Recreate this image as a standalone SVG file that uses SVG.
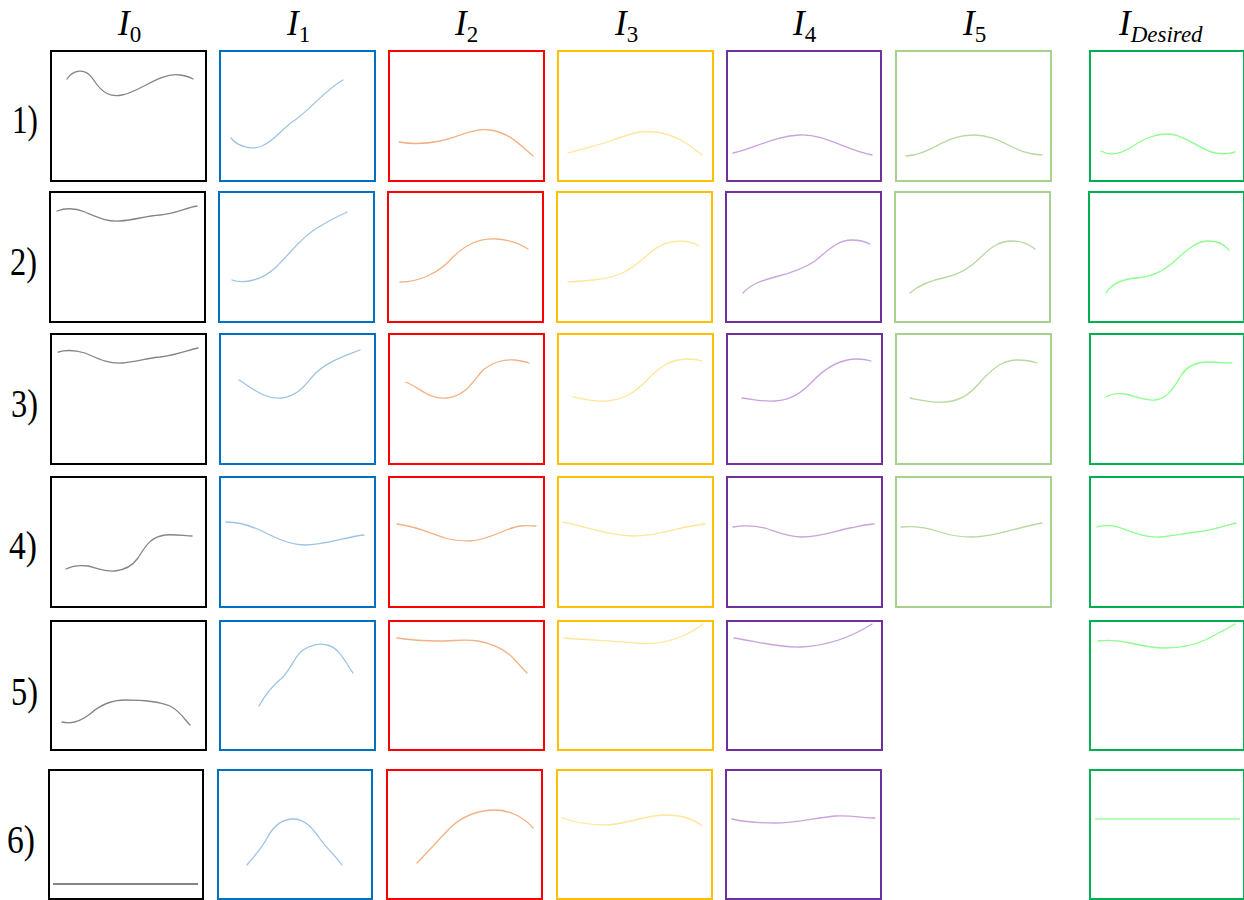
<svg xmlns="http://www.w3.org/2000/svg" width="1244" height="900" viewBox="0 0 1244 900">
<style>
.hdr{font-family:"Liberation Serif",serif;font-style:italic;font-size:35px;fill:#000}
.sub{font-style:normal;font-size:23px}
.subi{font-style:italic;font-size:23px}
.row{font-family:"Liberation Serif",serif;font-size:39px;fill:#000}
.box{fill:#fff;stroke-width:2}
.c{fill:none;stroke-width:1.3;stroke-linecap:round}
.k0{stroke:#000}.k1{stroke:#0070C0}.k2{stroke:#FF0000}.k3{stroke:#FFC000}.k4{stroke:#7030A0}.k5{stroke:#A9D18E}.kd{stroke:#00B050}
.q0{stroke:#858585}.q1{stroke:#9DC3E6}.q2{stroke:#F4B183}.q3{stroke:#FFE699}.q4{stroke:#C9A3DA}.q5{stroke:#B7D89F}.qd{stroke:#8CFF8C}
</style>
<rect width="1244" height="900" fill="#fff"/>
<g id="headers">
<text class="hdr" x="118" y="35">I<tspan class="sub" dy="7">0</tspan></text>
<text class="hdr" x="287" y="35">I<tspan class="sub" dy="7">1</tspan></text>
<text class="hdr" x="455" y="35">I<tspan class="sub" dy="7">2</tspan></text>
<text class="hdr" x="615" y="35">I<tspan class="sub" dy="7">3</tspan></text>
<text class="hdr" x="793" y="35">I<tspan class="sub" dy="7">4</tspan></text>
<text class="hdr" x="963" y="35">I<tspan class="sub" dy="7">5</tspan></text>
<text class="hdr" x="1119" y="35">I<tspan class="subi" dy="7">Desired</tspan></text>
</g>
<g id="rowlabels">
<text class="row" x="12" y="133" textLength="26" lengthAdjust="spacingAndGlyphs">1)</text>
<text class="row" x="10" y="275" textLength="27" lengthAdjust="spacingAndGlyphs">2)</text>
<text class="row" x="11" y="417" textLength="27" lengthAdjust="spacingAndGlyphs">3)</text>
<text class="row" x="9" y="559" textLength="28" lengthAdjust="spacingAndGlyphs">4)</text>
<text class="row" x="11" y="705" textLength="27" lengthAdjust="spacingAndGlyphs">5)</text>
<text class="row" x="7" y="853" textLength="28" lengthAdjust="spacingAndGlyphs">6)</text>
</g>

<!-- Row 1 -->
<g id="r1c0"><rect class="box k0" x="51" y="51" width="155" height="130"/><path class="c q0" d="M67,79 C73,70 85,67 93,79 C103,95 112,97 122,95 C140,92 160,72 180,75 C186,76 190,77 193,79"/></g>
<g id="r1c1"><rect class="box k1" x="220" y="51" width="155" height="130"/><path class="c q1" d="M231,138 C238,147 252,150 262,146 C276,140 282,128 295,120 C312,108 325,90 343,80"/></g>
<g id="r1c2"><rect class="box k2" x="389" y="51" width="155" height="130"/><path class="c q2" d="M399,142 C410,144 425,144 440,141 C460,136 475,128 490,130 C510,133 520,145 533,156"/></g>
<g id="r1c3"><rect class="box k3" x="558" y="51" width="155" height="130"/><path class="c q3" d="M568,153 C585,148 600,145 613,140 C630,134 640,130 655,132 C675,134 690,145 702,155"/></g>
<g id="r1c4"><rect class="box k4" x="727" y="51" width="154" height="130"/><path class="c q4" d="M733,153 C755,148 775,136 800,135 C825,134 845,150 872,155"/></g>
<g id="r1c5"><rect class="box k5" x="896" y="51" width="155" height="130"/><path class="c q5" d="M906,156 C930,155 945,135 973,135 C1002,135 1015,155 1042,155"/></g>
<g id="r1cd"><rect class="box kd" x="1090" y="51" width="154" height="130"/><path class="c qd" d="M1101,151 C1110,156 1120,154 1130,148 C1145,138 1155,134 1167,134 C1185,134 1200,150 1215,153 C1225,155 1230,153 1235,152"/></g>

<!-- Row 2 -->
<g id="r2c0"><rect class="box k0" x="50" y="192" width="155" height="130"/><path class="c q0" d="M57,211 C65,208 75,208 85,212 C97,217 107,222 120,221 C135,220 145,216 160,215 C175,214 185,208 197,206"/></g>
<g id="r2c1"><rect class="box k1" x="219" y="192" width="155" height="130"/><path class="c q1" d="M232,280 C245,284 262,280 275,268 C290,254 300,238 317,228 C328,221 338,216 347,212"/></g>
<g id="r2c2"><rect class="box k2" x="388" y="192" width="155" height="130"/><path class="c q2" d="M400,282 C420,282 440,272 452,258 C465,245 478,238 497,239 C510,240 520,244 528,249"/></g>
<g id="r2c3"><rect class="box k3" x="557" y="192" width="155" height="130"/><path class="c q3" d="M568,282 C585,281 605,280 620,274 C638,267 645,255 658,247 C670,240 688,239 699,246"/></g>
<g id="r2c4"><rect class="box k4" x="726" y="192" width="155" height="130"/><path class="c q4" d="M743,293 C750,285 760,281 775,277 C795,272 805,268 815,261 C828,250 838,240 852,240 C860,240 866,242 870,244"/></g>
<g id="r2c5"><rect class="box k5" x="895" y="192" width="155" height="130"/><path class="c q5" d="M910,293 C920,284 932,280 947,277 C960,274 970,268 980,258 C992,246 1000,241 1012,241 C1022,241 1030,245 1035,249"/></g>
<g id="r2cd"><rect class="box kd" x="1089" y="192" width="155" height="130"/><path class="c qd" d="M1106,293 C1112,283 1122,279 1137,278 C1150,277 1160,273 1170,265 C1185,252 1195,241 1208,241 C1218,241 1225,245 1229,250"/></g>

<!-- Row 3 -->
<g id="r3c0"><rect class="box k0" x="51" y="334" width="155" height="130"/><path class="c q0" d="M58,352 C65,350 75,350 85,353 C97,358 108,364 122,363 C135,362 148,358 160,357 C178,355 188,350 198,348"/></g>
<g id="r3c1"><rect class="box k1" x="220" y="334" width="155" height="130"/><path class="c q1" d="M239,380 C252,388 265,400 282,398 C298,396 305,385 313,376 C325,362 345,356 360,350"/></g>
<g id="r3c2"><rect class="box k2" x="389" y="334" width="155" height="130"/><path class="c q2" d="M406,382 C420,388 430,400 447,398 C465,396 472,383 482,371 C492,362 505,359 515,360 C521,361 526,362 529,363"/></g>
<g id="r3c3"><rect class="box k3" x="558" y="334" width="155" height="130"/><path class="c q3" d="M573,397 C585,399 595,402 607,401 C625,399 635,392 645,382 C658,368 670,359 687,359 C694,359 699,360 702,361"/></g>
<g id="r3c4"><rect class="box k4" x="727" y="334" width="155" height="130"/><path class="c q4" d="M742,398 C752,399 762,402 775,401 C792,400 802,392 812,382 C825,368 840,359 857,359 C863,359 868,360 871,361"/></g>
<g id="r3c5"><rect class="box k5" x="896" y="334" width="155" height="130"/><path class="c q5" d="M910,398 C920,400 930,403 945,402 C962,401 972,392 982,380 C995,366 1005,360 1017,360 C1025,360 1032,361 1037,363"/></g>
<g id="r3cd"><rect class="box kd" x="1090" y="334" width="154" height="130"/><path class="c qd" d="M1106,397 C1112,393 1118,393 1125,394 C1135,396 1145,401 1155,400 C1170,398 1175,385 1182,374 C1188,366 1195,362 1207,362 C1218,362 1225,363 1232,363"/></g>

<!-- Row 4 -->
<g id="r4c0"><rect class="box k0" x="51" y="477" width="155" height="130"/><path class="c q0" d="M66,569 C72,566 80,565 88,566 C97,568 105,572 115,571 C125,570 133,565 138,558 C145,547 150,537 165,535 C175,534 185,536 192,536"/></g>
<g id="r4c1"><rect class="box k1" x="220" y="477" width="155" height="130"/><path class="c q1" d="M226,522 C240,522 255,527 270,535 C282,541 292,545 305,545 C325,545 345,537 364,535"/></g>
<g id="r4c2"><rect class="box k2" x="389" y="477" width="155" height="130"/><path class="c q2" d="M397,524 C415,526 430,533 445,538 C455,541 462,541 470,541 C490,540 505,528 520,526 C527,525 532,526 536,526"/></g>
<g id="r4c3"><rect class="box k3" x="558" y="477" width="155" height="130"/><path class="c q3" d="M563,522 C585,526 605,535 633,536 C660,536 680,526 705,524"/></g>
<g id="r4c4"><rect class="box k4" x="727" y="477" width="155" height="130"/><path class="c q4" d="M733,527 C745,525 755,525 768,529 C780,533 790,537 802,537 C820,537 835,531 850,528 C860,526 868,524 874,524"/></g>
<g id="r4c5"><rect class="box k5" x="896" y="477" width="155" height="130"/><path class="c q5" d="M901,527 C912,526 925,527 940,532 C952,536 960,537 972,537 C995,537 1018,527 1042,523"/></g>
<g id="r4cd"><rect class="box kd" x="1090" y="477" width="154" height="130"/><path class="c qd" d="M1097,527 C1103,525 1110,525 1118,527 C1130,531 1145,538 1160,537 C1175,536 1185,533 1197,532 C1210,531 1225,526 1236,523"/></g>

<!-- Row 5 -->
<g id="r5c0"><rect class="box k0" x="51" y="621" width="155" height="129"/><path class="c q0" d="M62,722 C70,724 80,722 90,714 C100,705 110,700 125,700 C145,700 160,702 170,706 C180,711 185,720 190,725"/></g>
<g id="r5c1"><rect class="box k1" x="220" y="621" width="155" height="129"/><path class="c q1" d="M259,706 C265,695 272,686 282,678 C292,668 295,655 303,650 C310,645 320,643 327,645 C340,648 345,662 353,673"/></g>
<g id="r5c2"><rect class="box k2" x="389" y="621" width="155" height="129"/><path class="c q2" d="M397,638 C410,640 425,641 440,641 C455,641 465,639 478,641 C495,644 505,650 512,657 C518,663 522,668 527,673"/></g>
<g id="r5c3"><rect class="box k3" x="558" y="621" width="155" height="129"/><path class="c q3" d="M564,638 C590,640 615,641 635,643 C655,645 670,642 685,635 C693,631 698,628 703,624"/></g>
<g id="r5c4"><rect class="box k4" x="727" y="621" width="155" height="129"/><path class="c q4" d="M734,638 C755,641 780,648 800,647 C825,646 850,638 872,624"/></g>
<g id="r5cd"><rect class="box kd" x="1090" y="621" width="154" height="129"/><path class="c qd" d="M1098,641 C1108,640 1118,640 1130,643 C1143,646 1152,648 1165,648 C1180,648 1192,646 1205,640 C1215,635 1225,630 1235,624"/></g>

<!-- Row 6 -->
<g id="r6c0"><rect class="box k0" x="49" y="770" width="154" height="129"/><line class="q0" x1="53" y1="884" x2="198" y2="884" stroke-width="2"/></g>
<g id="r6c1"><rect class="box k1" x="218" y="770" width="154" height="129"/><path class="c q1" d="M247,865 C255,855 262,848 267,838 C274,825 283,819 293,819 C305,819 312,828 318,836 C325,847 335,855 342,865"/></g>
<g id="r6c2"><rect class="box k2" x="387" y="770" width="155" height="129"/><path class="c q2" d="M417,863 C428,852 440,838 452,826 C465,815 480,810 495,810 C510,810 525,818 533,828"/></g>
<g id="r6c3"><rect class="box k3" x="557" y="770" width="155" height="129"/><path class="c q3" d="M562,818 C575,822 590,825 605,825 C625,825 645,815 665,815 C682,815 695,820 702,826"/></g>
<g id="r6c4"><rect class="box k4" x="726" y="770" width="155" height="129"/><path class="c q4" d="M732,819 C745,822 760,823 775,823 C795,823 815,818 835,816 C850,815 865,818 875,818"/></g>
<g id="r6cd"><rect class="box kd" x="1090" y="770" width="154" height="129"/><line x1="1095" y1="819" x2="1240" y2="819" stroke="#B3FFB3" stroke-width="2"/></g>

<g id="connectors"></g>
</svg>
